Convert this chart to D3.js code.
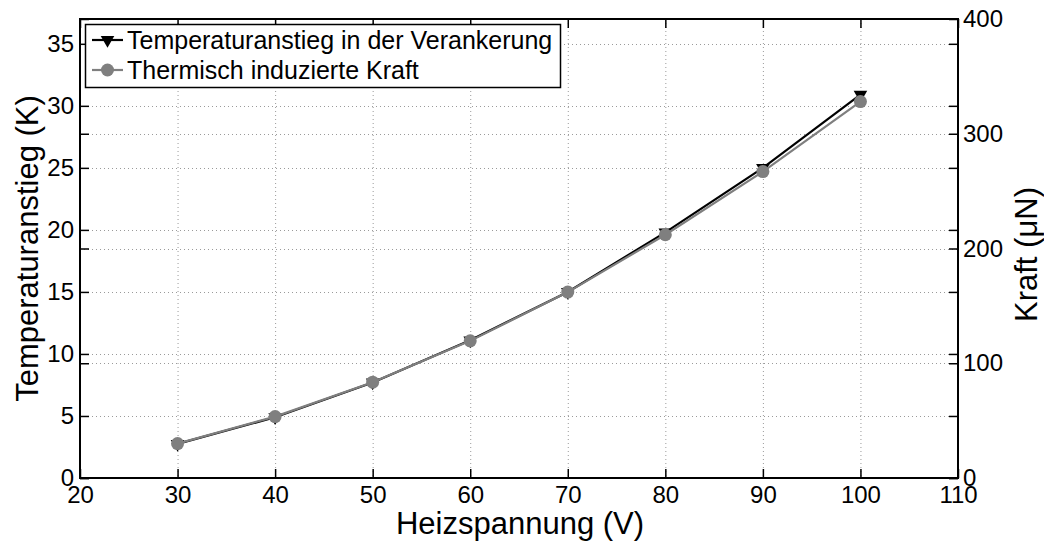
<!DOCTYPE html>
<html>
<head>
<meta charset="utf-8">
<script src="https://cdn.jsdelivr.net/npm/d3@7"></script>
<style>
  html, body { margin: 0; padding: 0; background: #fff; }
  svg { display: block; font-family: "Liberation Sans", Arial, Helvetica, sans-serif; }
</style>
</head>
<body>
<svg id="chart" width="1044" height="541"></svg>
<script>
// Heating voltage (V)
const voltages = [30, 40, 50, 60, 70, 80, 90, 100];
// Temperature rise in the anchor (K)
const tempRise = [2.75, 4.9, 7.7, 11.1, 15.0, 19.8, 25.0, 30.9];
// Thermally induced force (µN)
const force = [30, 53.5, 83.5, 119.5, 162, 212, 267, 328];

const xTicks = [20, 30, 40, 50, 60, 70, 80, 90, 100, 110];
const yLeftTicks = [0, 5, 10, 15, 20, 25, 30, 35];
const yRightTicks = [0, 100, 200, 300, 400];

const legendLabels = ["Temperaturanstieg in der Verankerung", "Thermisch induzierte Kraft"];
const xLabel = "Heizspannung (V)";
const yLeftLabel = "Temperaturanstieg (K)";
const yRightLabel = "Kraft (\u03BCN)";

const svg = d3.select("#chart");
const L = 80, R = 958, T = 19, B = 478;

const x = d3.scaleLinear().domain([20, 110]).range([L, R]);
const yL = d3.scaleLinear().domain([0, 37]).range([B, T]);
const yR = d3.scaleLinear().domain([0, 400]).range([B, T]);

const gridColor = "#9a9a9a";
const grid = svg.append("g").attr("stroke", gridColor).attr("stroke-width", 1)
  .attr("stroke-dasharray", "1,3");
// vertical grid
grid.selectAll("line.v").data(xTicks.filter(d => d > 20 && d < 110)).join("line")
  .attr("x1", d => x(d) + 0.5).attr("x2", d => x(d) + 0.5)
  .attr("y1", T).attr("y2", B);
// horizontal grid, left axis
grid.selectAll("line.hl").data(yLeftTicks.filter(d => d > 0)).join("line")
  .attr("class", "hl")
  .attr("x1", L).attr("x2", R)
  .attr("y1", d => Math.round(yL(d)) + 0.5).attr("y2", d => Math.round(yL(d)) + 0.5);
// horizontal grid, right axis
grid.selectAll("line.hr").data(yRightTicks.filter(d => d > 0 && d < 400)).join("line")
  .attr("class", "hr")
  .attr("x1", L).attr("x2", R)
  .attr("y1", d => Math.round(yR(d)) + 0.5).attr("y2", d => Math.round(yR(d)) + 0.5);

// axes
const tick = 9;
const fs = 24;
function styleAxis(g) {
  g.select(".domain").remove();
  g.selectAll(".tick line").attr("stroke", "#000").attr("stroke-width", 1.5);
  g.selectAll(".tick text").attr("fill", "#000").style("font-size", fs + "px");
}

svg.append("g").attr("transform", `translate(0,${B})`)
  .call(d3.axisBottom(x).tickValues(xTicks).tickSize(-tick).tickPadding(8).tickFormat(d3.format("d")))
  .call(styleAxis)
  .selectAll(".tick text").attr("dy", "0.71em");
svg.append("g").attr("transform", `translate(0,${T})`)
  .call(d3.axisTop(x).tickValues(xTicks).tickSize(-tick).tickFormat(""))
  .call(styleAxis);

svg.append("g").attr("transform", `translate(${L},0)`)
  .call(d3.axisLeft(yL).tickValues(yLeftTicks).tickSize(-tick).tickPadding(6).tickFormat(d3.format("d")))
  .call(styleAxis);
svg.append("g").attr("transform", `translate(${L},0)`)
  .call(d3.axisLeft(yR).tickValues(yRightTicks).tickSize(-tick).tickFormat(""))
  .call(styleAxis);

svg.append("g").attr("transform", `translate(${R},0)`)
  .call(d3.axisRight(yR).tickValues(yRightTicks).tickSize(-tick).tickPadding(5).tickFormat(d3.format("d")))
  .call(styleAxis);
svg.append("g").attr("transform", `translate(${R},0)`)
  .call(d3.axisRight(yL).tickValues(yLeftTicks).tickSize(-tick).tickFormat(""))
  .call(styleAxis);

// frame
svg.append("rect").attr("x", L).attr("y", T).attr("width", R - L).attr("height", B - T)
  .attr("fill", "none").attr("stroke", "#000").attr("stroke-width", 2);

// series data
const tempData = voltages.map((v, i) => [v, tempRise[i]]);
const forceData = voltages.map((v, i) => [v, force[i]]);

const triangle = d3.symbol().type(d3.symbolTriangle).size(80);

// temperature rise (left axis)
svg.append("path").datum(tempData)
  .attr("fill", "none").attr("stroke", "#000").attr("stroke-width", 2.2)
  .attr("d", d3.line().x(d => x(d[0])).y(d => yL(d[1])));
svg.selectAll("path.tri").data(tempData).join("path").attr("class", "tri")
  .attr("d", triangle)
  .attr("transform", d => `translate(${x(d[0])},${yL(d[1])}) rotate(180)`)
  .attr("fill", "#000");

// force (right axis)
const grey = "#7f7f7f";
svg.append("path").datum(forceData)
  .attr("fill", "none").attr("stroke", grey).attr("stroke-width", 2.2)
  .attr("d", d3.line().x(d => x(d[0])).y(d => yR(d[1])));
svg.selectAll("circle.pt").data(forceData).join("circle").attr("class", "pt")
  .attr("cx", d => x(d[0])).attr("cy", d => yR(d[1])).attr("r", 6.5)
  .attr("fill", grey);

// legend
const lg = svg.append("g");
lg.append("rect").attr("x", 85.5).attr("y", 24.5).attr("width", 475).attr("height", 63)
  .attr("fill", "#fff").attr("stroke", "#000").attr("stroke-width", 1.5);
const rows = [40, 70];
lg.append("line").attr("x1", 92).attr("x2", 123).attr("y1", rows[0]).attr("y2", rows[0])
  .attr("stroke", "#000").attr("stroke-width", 2.2);
lg.append("path").attr("d", triangle).attr("fill", "#000")
  .attr("transform", `translate(107.5,${rows[0]}) rotate(180)`);
lg.append("line").attr("x1", 92).attr("x2", 123).attr("y1", rows[1]).attr("y2", rows[1])
  .attr("stroke", grey).attr("stroke-width", 2.2);
lg.append("circle").attr("cx", 107.5).attr("cy", rows[1]).attr("r", 6.5).attr("fill", grey);
lg.selectAll("text").data(legendLabels).join("text")
  .attr("x", 127).attr("y", (d, i) => rows[i]).attr("dy", "0.35em")
  .style("font-size", "25px").attr("fill", "#000").text(d => d);

// axis titles
svg.append("text").attr("x", (L + R) / 2 + 1).attr("y", 534)
  .attr("text-anchor", "middle").style("font-size", "31px").text(xLabel);
svg.append("text").attr("transform", `translate(38,${(T + B) / 2}) rotate(-90)`)
  .attr("text-anchor", "middle").style("font-size", "31px").text(yLeftLabel);
svg.append("text").attr("transform", `translate(1037,${(T + B) / 2 + 6}) rotate(-90)`)
  .attr("text-anchor", "middle").style("font-size", "31px").text(yRightLabel);
</script>
</body>
</html>
